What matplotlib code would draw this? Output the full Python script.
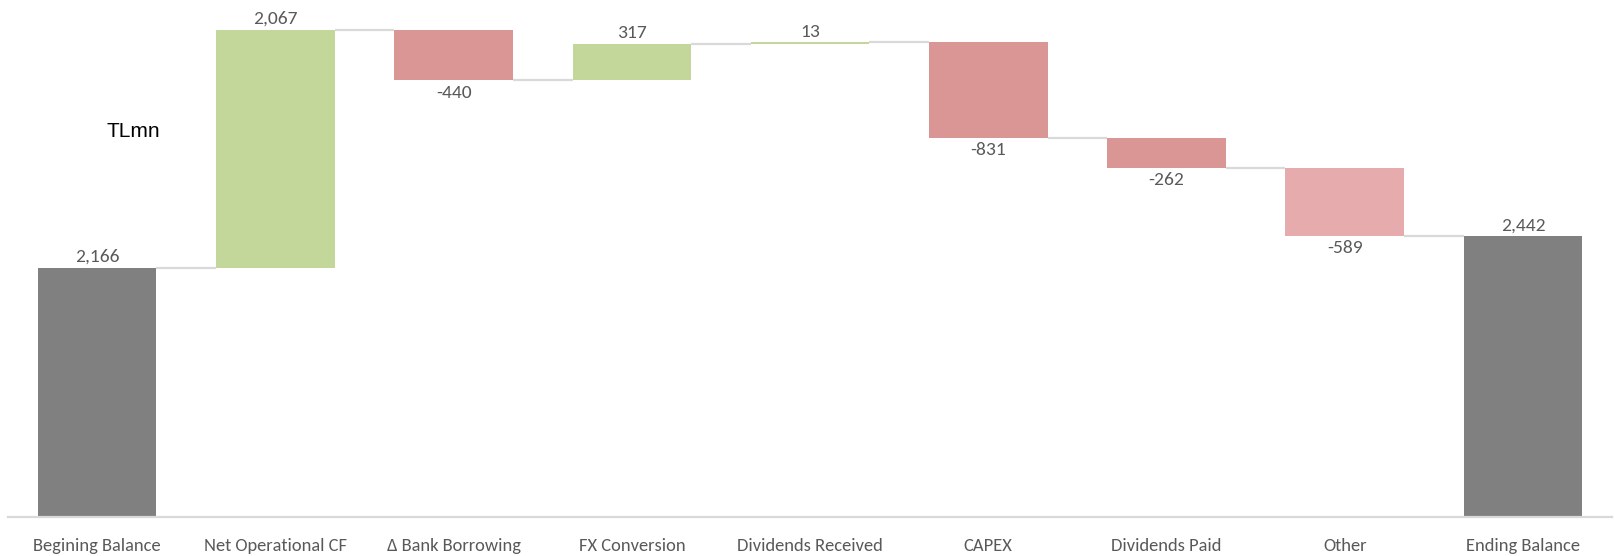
import matplotlib
matplotlib.use("Agg")
import matplotlib.pyplot as plt
import numpy as np

categories = ["Begining Balance", "Net Operational CF", "Δ Bank Borrowing", "FX Conversion",
              "Dividends Received", "CAPEX", "Dividends Paid", "Other", "Ending Balance"]
changes = [2166, 2067, -440, 317, 13, -831, -262, -589, 2442]
is_total = [True, False, False, False, False, False, False, False, True]
bar_colors = ["#808080", "#C4D79B", "#DA9694", "#C4D79B", "#C4D79B",
              "#DA9694", "#DA9694", "#E6ACAD", "#808080"]

label_font = ["Carlito", "DejaVu Sans"]
text_grey = "#595959"
width = 0.665

fig = plt.figure(figsize=(16.14, 5.56), dpi=100)
ax = fig.add_axes([0.005, 0.0701, 0.9938, 0.9299])

# running level before each bar
bottoms = []
tops = []
level = 0
for val, tot in zip(changes, is_total):
    if tot:
        bottoms.append(0)
        tops.append(val)
        level = val
    else:
        bottoms.append(level)
        level += val
        tops.append(level)
bottoms = np.array(bottoms, dtype=float)
tops = np.array(tops, dtype=float)
low = np.minimum(bottoms, tops)
high = np.maximum(bottoms, tops)

x = np.arange(len(categories))
ax.bar(x, high - low, bottom=low, width=width, color=bar_colors, zorder=2)

# connectors between consecutive bars
for i in range(len(categories) - 1):
    ax.hlines(tops[i], x[i] + width / 2, x[i + 1] - width / 2,
              color="#D9D9D9", linewidth=1.6, zorder=1)

for i, val in enumerate(changes):
    txt = f"{val:,}"
    if val >= 0:
        ax.annotate(txt, (x[i], high[i]), xytext=(0, 4), textcoords="offset points",
                    ha="center", va="baseline", fontsize=14, color=text_grey, family=label_font)
    else:
        ax.annotate(txt, (x[i], low[i]), xytext=(0, -12.5), textcoords="offset points",
                    ha="center", va="baseline", fontsize=14, color=text_grey, family=label_font)

ax.text(0.078, 0.745, "TLmn", transform=ax.transAxes, fontsize=15,
        color="black", family=["Liberation Sans", "DejaVu Sans"], ha="center", va="center")

ax.set_xlim(-0.5, len(categories) - 0.5)
ax.set_ylim(0, 4490)
ax.set_xticks(x)
ax.set_xticklabels(categories, fontsize=13.3, color=text_grey, family=label_font)
ax.tick_params(axis="x", length=0, pad=15)
ax.set_yticks([])
for side in ["top", "right", "left"]:
    ax.spines[side].set_visible(False)
ax.spines["bottom"].set_color("#D9D9D9")
ax.spines["bottom"].set_linewidth(1.6)

fig.savefig("out.png", dpi=100)
